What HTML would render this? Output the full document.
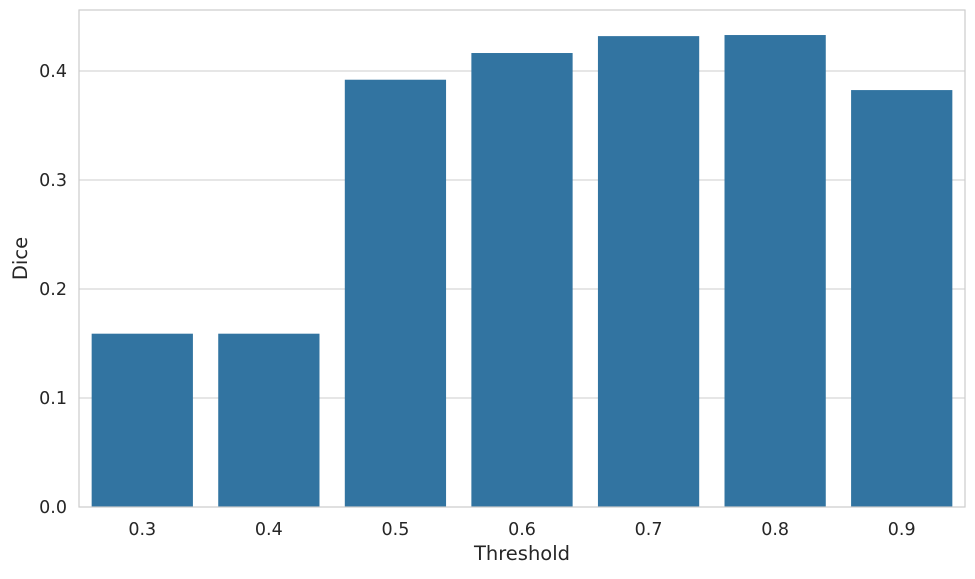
<!DOCTYPE html>
<html><head><meta charset="utf-8"><style>
body{margin:0;background:#fff;font-family:"DejaVu Sans",sans-serif;}
</style></head><body>
<svg id="chart" width="975" height="575" xmlns="http://www.w3.org/2000/svg" font-family="DejaVu Sans, sans-serif"></svg>
<script>
const categories=["0.3","0.4","0.5","0.6","0.7","0.8","0.9"];
const diceValues=[0.159,0.159,0.392,0.4165,0.432,0.433,0.3825];
const yTicks=[0.0,0.1,0.2,0.3,0.4];
const yTickLabels=["0.0","0.1","0.2","0.3","0.4"];
const L=79,R=965,T=10,B=507,yMax=(507-10)/1090;
const svg=document.getElementById('chart');
const NS="http://www.w3.org/2000/svg";
function y(v){return B-(v/yMax)*(B-T);}
const slot=(R-L)/categories.length;
function x(i){return L+slot*(i+0.5);}
function mk(tag,attrs,parent){const e=document.createElementNS(NS,tag);for(const k in attrs)e.setAttribute(k,attrs[k]);(parent||svg).appendChild(e);return e;}
yTicks.forEach((t,i)=>{
  const g=mk('line',{x1:L,x2:R,y1:y(t),y2:y(t),stroke:'#cccccc','stroke-width':1});
  
  
  const tx=mk('text',{x:L-12,y:y(t)+6,'text-anchor':'end','font-size':17.5,fill:'#262626'});
  tx.textContent=yTickLabels[i];
  
  
});
categories.forEach((c,i)=>{
  const bw=slot*0.8;
  const r=mk('rect',{x:x(i)-bw/2,y:y(diceValues[i]),width:bw,height:B-y(diceValues[i]),fill:'#3274a1'});
  
  
  const tx=mk('text',{x:x(i),y:B+28,'text-anchor':'middle','font-size':17.5,fill:'#262626'});
  tx.textContent=c;
  
  
});
const fr=mk('rect',{x:L,y:T,width:R-L,height:B-T,fill:'none',stroke:'#cccccc','stroke-width':1.2});


const xl=mk('text',{x:(L+R)/2,y:560,'text-anchor':'middle','font-size':19.5,fill:'#262626'});
xl.textContent='Threshold';


const yl=mk('text',{x:0,y:0,transform:'translate(27,'+((T+B)/2)+') rotate(-90)','text-anchor':'middle','font-size':19.5,fill:'#262626'});
yl.textContent='Dice';


</script>
</body></html>
